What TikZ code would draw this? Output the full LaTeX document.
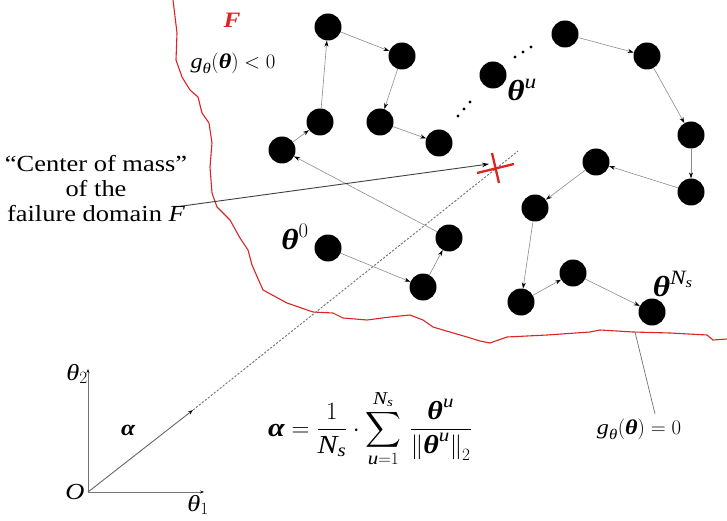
\documentclass[tikz,border=0pt]{standalone}
\usepackage{amsmath}
\usepackage{fontspec}
\setmainfont{Liberation Serif}[FakeStretch=1.15]
\usetikzlibrary{arrows.meta}
\definecolor{bnd}{RGB}{222,35,35}
\newcommand\bth{\text{\bfseries\itshape θ}}
\newcommand\bal{\text{\bfseries\itshape α}}
\newcommand\itx[1]{\text{\itshape #1}}
\begin{document}
\begin{tikzpicture}[x=1pt,y=-1pt,
  pt/.style={circle,fill=black,minimum size=27pt,inner sep=0pt},
  walk/.style={draw=black!45,line width=0.6pt,-{Stealth[length=6pt,width=4pt,color=black]}},
  axis/.style={draw=black!55,line width=0.9pt,-{Stealth[length=4pt,width=3pt,color=black]}},
  lbl/.style={inner sep=0pt,font=\fontsize{21}{24}\selectfont},
  axl/.style={inner sep=0pt,font=\fontsize{23}{26}\selectfont},
  big/.style={inner sep=0pt,font=\fontsize{29}{31}\selectfont},
  dotm/.style={fill=black},
  xmark/.style={draw=bnd,line width=2.3pt}
]
\fill[white] (0,0) rectangle (727,521);
\useasboundingbox (0,0) rectangle (727,521);

% failure boundary
\draw[bnd,line width=1.1pt,line join=round]
 (173,0) -- (177,33) -- (176,60) -- (182,77) -- (190,90) -- (198,97) -- (202,113)
 -- (209,123) -- (212,143) -- (210,167) -- (212,193) -- (217,207) -- (230,220)
 -- (240,238) -- (248,250) -- (252,265) -- (263,290) -- (287,303) -- (313,312)
 -- (333,313) -- (343,318) -- (367,320) -- (390,317) -- (410,315) -- (423,320)
 -- (433,327) -- (443,330) -- (467,337) -- (480,341) -- (490,343) -- (507,337)
 -- (547,335) -- (590,332) -- (600,330) -- (633,332) -- (670,333) -- (707,335)
 -- (713,340) -- (727,339);

% coordinates
\coordinate (O) at (88,492);
\coordinate (ax2) at (88,369);
\coordinate (ax1) at (204,492);
\coordinate (atip) at (193,410);
\coordinate (dend) at (518,151);
\coordinate (cmstart) at (175,207);
\coordinate (cmtip) at (489,164);
\coordinate (g0pt) at (635,332);
\coordinate (g0end) at (655,414);

% direction line
\draw[black!55,line width=0.9pt,dash pattern=on 2.2pt off 1.6pt] (atip) -- (dend);
\draw[black!60,line width=0.9pt,-{Stealth[length=5pt,width=3.5pt,color=black]}] (O) -- (atip);

% axes
\draw[axis] (O) -- (ax2);
\draw[axis] (O) -- (ax1);

% nodes
\node[pt] (A) at (328,27) {};
\node[pt] (B) at (402,56) {};
\node[pt] (C) at (380,122) {};
\node[pt] (D) at (439,143) {};
\node[pt] (E) at (320,122) {};
\node[pt] (G) at (282,150) {};
\node[pt] (H) at (493,75) {};
\node[pt] (I) at (565,34) {};
\node[pt] (J) at (647,56) {};
\node[pt] (K) at (691,135) {};
\node[pt] (L) at (691,192) {};
\node[pt] (M) at (596,162) {};
\node[pt] (N) at (535,208) {};
\node[pt] (P) at (521,302) {};
\node[pt] (Q) at (573,273) {};
\node[pt] (R) at (652,312) {};
\node[pt] (S) at (328,248) {};
\node[pt] (T) at (423,287) {};
\node[pt] (U) at (449,238) {};

% chains
\draw[walk] (G) -- (E);
\draw[walk] (E) -- (A);
\draw[walk] (A) -- (B);
\draw[walk] (B) -- (C);
\draw[walk] (C) -- (D);
\draw[walk] (S) -- (T);
\draw[walk] (T) -- (U);
\draw[walk] (U) -- (G);
\draw[walk] (I) -- (J);
\draw[walk] (J) -- (K);
\draw[walk] (K) -- (L);
\draw[walk] (L) -- (M);
\draw[walk] (M) -- (N);
\draw[walk] (N) -- (P);
\draw[walk] (P) -- (Q);
\draw[walk] (Q) -- (R);

% dots
\fill[dotm] (458,116) circle (1.7) (464,109) circle (1.7) (470,102) circle (1.7);
\fill[dotm] (515,57) circle (1.7) (523,52) circle (1.7) (531,47) circle (1.7);

% centre of mass arrow and mark
\draw[black!75,line width=0.9pt,-{Stealth[length=7pt,width=4.5pt,color=black]}] (cmstart) -- (cmtip);
\draw[xmark] (477,173) -- (514,164);
\draw[xmark] (492,153) -- (499,183);

% limit-state label line
\draw[black!55,line width=0.7pt] (g0pt) -- (g0end);

% labels
\node[inner sep=0pt,font=\fontsize{22}{24}\selectfont\bfseries\itshape,text=bnd] (Flbl) at (232,20) {F};
\node[lbl] (gneg) at (233,63) {$\itx{g}_{\itx{θ}}(\bth) < 0$};
\node[lbl] (gzero) at (639,429) {$\itx{g}_{\itx{θ}}(\bth) = 0$};
\node[align=center,inner sep=0pt,font=\fontsize{23}{25}\selectfont] (cm) at (96,189)
  {“Center of mass”\\of the\\failure domain \textit{F}};
\node[big] (th0) at (295,237) {$\bth^{0}$};
\node[big] (thu) at (522,90) {$\bth^{\itx{u}}$};
\node[big] (thN) at (673,284) {$\bth^{\itx{N}_{\itx{s}}}$};
\node[axl] (Olbl) at (75,492) {\itshape O};
\node[axl] (t2) at (77,374) {$\itx{θ}_2$};
\node[axl] (t1) at (198,505) {$\itx{θ}_1$};
\node[inner sep=0pt,font=\fontsize{22}{24}\selectfont] (al) at (128,430) {$\bal$};
\node[inner sep=0pt,anchor=base,font=\fontsize{26}{30}\selectfont] (form) at (370,436)
 {$\bal = \dfrac{1}{\itx{N}_{\itx{s}}}\cdot\displaystyle\sum_{\itx{u}=1}^{\itx{N}_{\itx{s}}}\,\dfrac{\bth^{\itx{u}}}{\left\lVert\bth^{\itx{u}}\right\rVert_2}$};
\end{tikzpicture}
\end{document}
